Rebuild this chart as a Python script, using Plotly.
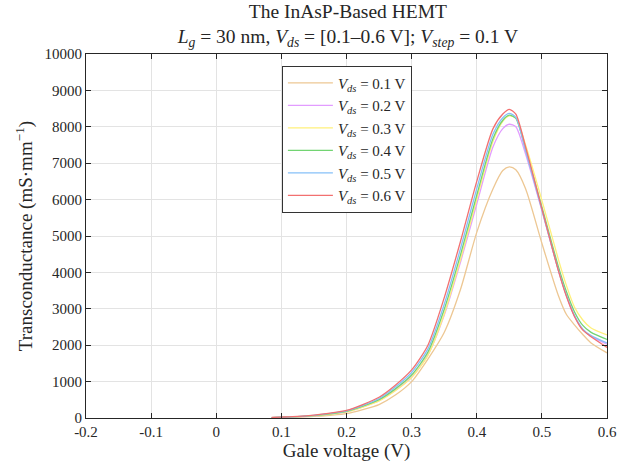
import plotly.graph_objects as go

gate_v = [0.085, 0.1, 0.125, 0.15, 0.175, 0.2, 0.225, 0.25, 0.275, 0.3, 0.325, 0.35,
          0.375, 0.4, 0.425, 0.44, 0.45, 0.46, 0.475, 0.5, 0.525, 0.5375, 0.55,
          0.5625, 0.575, 0.6]

gm_01 = [10, 15, 25, 42, 75, 120, 230, 370, 630, 1000, 1620, 2350,
         3530, 5100, 6300, 6800, 6900, 6820, 6300, 4800, 3380, 2850, 2560,
         2300, 2070, 1790]
gm_02 = [11, 18, 34, 60, 105, 170, 305, 475, 760, 1120, 1730, 2820,
         4280, 5880, 7450, 7950, 8070, 8000, 7250, 5700, 4080, 3370, 2800,
         2440, 2250, 2030]
gm_03 = [10, 17, 32, 58, 100, 165, 300, 470, 750, 1110, 1720, 2850,
         4350, 6000, 7600, 8150, 8300, 8240, 7500, 5980, 4380, 3650, 3050,
         2700, 2480, 2280]
gm_04 = [12, 20, 37, 66, 115, 185, 325, 505, 800, 1180, 1810, 2980,
         4480, 6120, 7680, 8180, 8320, 8230, 7380, 5800, 4180, 3480, 2920,
         2550, 2360, 2160]
gm_05 = [13, 22, 40, 72, 125, 195, 345, 535, 850, 1250, 1900, 3120,
         4650, 6300, 7800, 8250, 8370, 8260, 7350, 5720, 4080, 3380, 2820,
         2450, 2270, 2060]
gm_06 = [15, 25, 45, 80, 135, 210, 370, 570, 900, 1320, 2000, 3300,
         4850, 6500, 7950, 8350, 8480, 8350, 7450, 5750, 4070, 3350, 2790,
         2420, 2240, 1940]

series_labels = ["0.1", "0.2", "0.3", "0.4", "0.5", "0.6"]
series_values = [gm_01, gm_02, gm_03, gm_04, gm_05, gm_06]
colors = ["#EDC793", "#E29CFF", "#FFF07A", "#72D472", "#86C0F8", "#F27070"]

x_ticks = [-0.2, -0.1, 0, 0.1, 0.2, 0.3, 0.4, 0.5, 0.6]
x_tick_text = ["-0.2", "-0.1", "0", "0.1", "0.2", "0.3", "0.4", "0.5", "0.6"]
y_ticks = list(range(0, 10001, 1000))

FONT = "Liberation Serif"

fig = go.Figure()
for lab, vals, col in zip(series_labels, series_values, colors):
    fig.add_trace(go.Scatter(
        x=gate_v, y=vals, mode="lines",
        line=dict(color=col, width=1.3, shape="spline", smoothing=0.7),
        name=f"<i>V</i><sub><i>ds</i></sub> = {lab} V",
    ))

axis_common = dict(
    showgrid=True, gridcolor="#e3e3e3", gridwidth=1,
    showline=True, linecolor="#262626", linewidth=1,
    mirror="ticks", ticks="inside", ticklen=5, tickcolor="#262626",
    zeroline=False,
    tickfont=dict(family=FONT, size=15, color="#262626"),
)

fig.update_layout(
    width=629, height=466,
    margin=dict(l=86, r=19, t=54, b=48),
    paper_bgcolor="white", plot_bgcolor="white",
    font=dict(family=FONT, color="#262626"),
    title=dict(
        text="The InAsP-Based HEMT<br><i>L</i><sub><i>g</i></sub> = 30 nm, "
             "<i>V</i><sub><i>ds</i></sub> = [0.1–0.6 V]; "
             "<i>V</i><sub><i>step</i></sub> = 0.1 V",
        xref="container", yref="container",
        x=0.553, xanchor="center", y=0.962, yanchor="bottom",
        font=dict(family=FONT, size=19.5, color="#262626"),
    ),
    xaxis=dict(range=[-0.2, 0.6], tickvals=x_ticks, ticktext=x_tick_text,
               title=dict(text="Gale voltage (V)", font=dict(family=FONT, size=19),
                          standoff=0),
               **axis_common),
    yaxis=dict(range=[0, 10000], tickvals=y_ticks, tickformat="d",
               title=dict(text="Transconductance (mS·mm<sup>−1</sup>)",
                          font=dict(family=FONT, size=19), standoff=6),
               **axis_common),
    legend=dict(x=0.376, y=0.968, xanchor="left", yanchor="top",
                bgcolor="white", bordercolor="#333333", borderwidth=1,
                font=dict(family=FONT, size=15, color="#262626"),
                tracegroupgap=0, itemwidth=45),
    showlegend=True,
)

fig.write_html("out.html", config={"displayModeBar": False},
               post_script="document.body.style.margin='0px';")
